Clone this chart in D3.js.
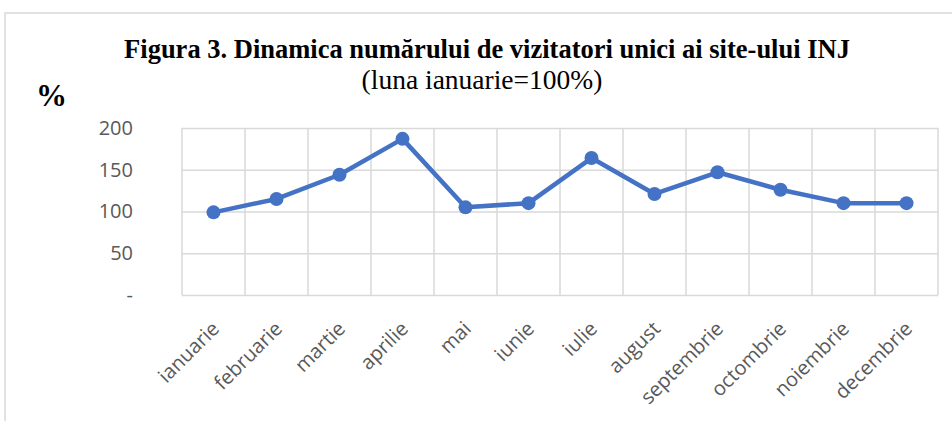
<!DOCTYPE html>
<html>
<head>
<meta charset="utf-8">
<script src="https://cdn.jsdelivr.net/npm/d3@7"></script>
<style>
  body { margin: 0; background: #fff; }
  .grid line { stroke: #d9d9d9; stroke-width: 1.5; }
  .grid .domain { display: none; }
  .axis text { fill: #595959; font-family: "Open Sans", sans-serif; }
  .axis .domain, .axis line { display: none; }
</style>
</head>
<body>
<div id="chart"></div>
<script>
var months = ["ianuarie", "februarie", "martie", "aprilie", "mai", "iunie",
  "iulie", "august", "septembrie", "octombrie", "noiembrie", "decembrie"];
var visitors = [99, 115, 144, 187, 105, 110, 164, 121, 147, 126, 110, 110];
var ticksY = [0, 50, 100, 150, 200];

var width = 952;
var height = 421;
var margins = { top: 128, right: 14, bottom: 126, left: 182 };
var chartWidth = width - margins.left - margins.right;
var chartHeight = height - margins.top - margins.bottom;

var svg = d3.select("#chart").append("svg")
  .attr("width", width)
  .attr("height", height);

// outer frame
svg.append("rect")
  .attr("x", 5).attr("y", 13)
  .attr("width", width + 10).attr("height", height + 10)
  .attr("fill", "none").attr("stroke", "#d9d9d9").attr("stroke-width", 1.5);

// titles
svg.append("text")
  .attr("x", 487).attr("y", 58)
  .attr("text-anchor", "middle")
  .style("font-family", "'Liberation Serif', serif")
  .style("font-weight", "bold").style("font-size", "26.5px")
  .text("Figura 3. Dinamica numărului de vizitatori unici ai site-ului INJ");

svg.append("text")
  .attr("x", 482).attr("y", 89)
  .attr("text-anchor", "middle")
  .style("font-family", "'Liberation Serif', serif")
  .style("font-size", "27.5px")
  .text("(luna ianuarie=100%)");

svg.append("text")
  .attr("x", 36).attr("y", 106)
  .style("font-family", "'Liberation Serif', serif")
  .style("font-weight", "bold").style("font-size", "31px")
  .text("%");

var chartElement = svg.append("g")
  .attr("transform", "translate(" + margins.left + "," + margins.top + ")");

var xScale = d3.scaleBand().domain(months).range([0, chartWidth]);
var yScale = d3.scaleLinear().domain([0, 200]).range([chartHeight, 0]);

// horizontal grid
chartElement.append("g").attr("class", "grid")
  .call(d3.axisLeft(yScale).tickValues(ticksY).tickSize(-chartWidth).tickFormat(""));

// vertical grid at category boundaries
chartElement.append("g").attr("class", "grid")
  .selectAll("line")
  .data(d3.range(months.length + 1))
  .enter().append("line")
  .attr("x1", (i) => i * xScale.step())
  .attr("x2", (i) => i * xScale.step())
  .attr("y1", 0).attr("y2", chartHeight);

// y axis labels
var yAxis = chartElement.append("g").attr("class", "axis")
  .call(d3.axisLeft(yScale).tickValues(ticksY).tickSize(0).tickPadding(49)
    .tickFormat((d) => (d === 0 ? "-" : d)));
yAxis.selectAll("text").style("font-size", "20px");

// x axis labels, rotated
chartElement.append("g").attr("class", "axis")
  .selectAll("text")
  .data(months)
  .enter().append("text")
  .attr("text-anchor", "end")
  .attr("transform", (d) => "translate(" + (xScale(d) + xScale.bandwidth() / 2 + 2) + "," + (chartHeight + 30) + ") rotate(-45)")
  .attr("dy", "0.35em")
  .style("font-size", "20px")
  .text((d) => d);

// line and markers
var line = d3.line()
  .x((d, i) => xScale(months[i]) + xScale.bandwidth() / 2)
  .y((d) => yScale(d));

chartElement.append("path")
  .datum(visitors)
  .attr("d", line)
  .attr("fill", "none")
  .attr("stroke", "#4472c4")
  .attr("stroke-width", 4.5)
  .attr("stroke-linejoin", "round");

chartElement.selectAll("circle")
  .data(visitors)
  .enter().append("circle")
  .attr("cx", (d, i) => xScale(months[i]) + xScale.bandwidth() / 2)
  .attr("cy", (d) => yScale(d))
  .attr("r", 7)
  .attr("fill", "#4472c4");
</script>
</body>
</html>
